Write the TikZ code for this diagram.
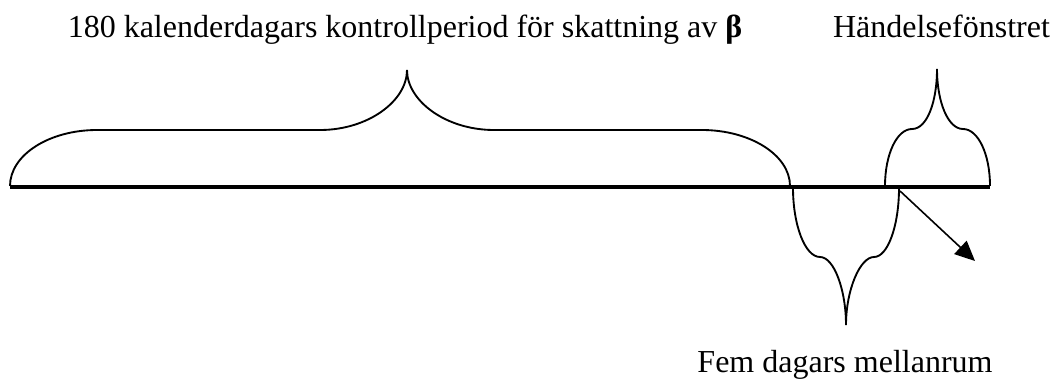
\documentclass[tikz,border=0pt]{standalone}
\usepackage{fontspec}
\setmainfont{Liberation Serif}
\usetikzlibrary{arrows.meta}
\begin{document}
\begin{tikzpicture}[x=0.75pt,y=-0.75pt,
  brace/.style={line width=1.4pt},
  axis/.style={line width=3pt},
  lbl/.style={font=\fontsize{24}{28}\selectfont, inner sep=0pt, anchor=base},
  arr/.style={line width=1.2pt, -{Triangle[length=15pt,width=13.5pt]}}]
\useasboundingbox (0,0) rectangle (1055,378);
% labels
\node[lbl] (ctrl) at (405,38) {180 kalenderdagars kontrollperiod för skattning av \textbf{β}};
\node[lbl] (event) at (941.5,38) {Händelsefönstret};
\node[lbl] (gap) at (845,372) {Fem dagars mellanrum};
% axis
\coordinate (a0) at (10,187);
\coordinate (a1) at (990,187);
\draw[axis] (a0) -- (a1);
% big brace
\draw[brace] (10,186) .. controls (10,155) and (49,130) .. (97,130)
  -- (320,130) .. controls (368,130) and (407,101) .. (407,70)
  .. controls (407,101) and (446,130) .. (494,130)
  -- (702,130) .. controls (750,130) and (790,155) .. (790,186);
% small top brace
\draw[brace] (885,186) .. controls (885,154) and (897,129) .. (912,129)
  .. controls (927,129) and (937,102) .. (937,69)
  .. controls (937,102) and (948,129) .. (963,129)
  .. controls (978,129) and (990,154) .. (990,186);
% lower brace
\draw[brace] (793,188) .. controls (793,225) and (805,257) .. (820,257)
  .. controls (834,257) and (846,290) .. (846,325)
  .. controls (846,290) and (860,257) .. (874,257)
  .. controls (888,257) and (899,225) .. (899,188);
% arrow
\coordinate (s) at (900,191);
\coordinate (e) at (975,261);
\draw[arr] (s) -- (e);
\end{tikzpicture}
\end{document}
